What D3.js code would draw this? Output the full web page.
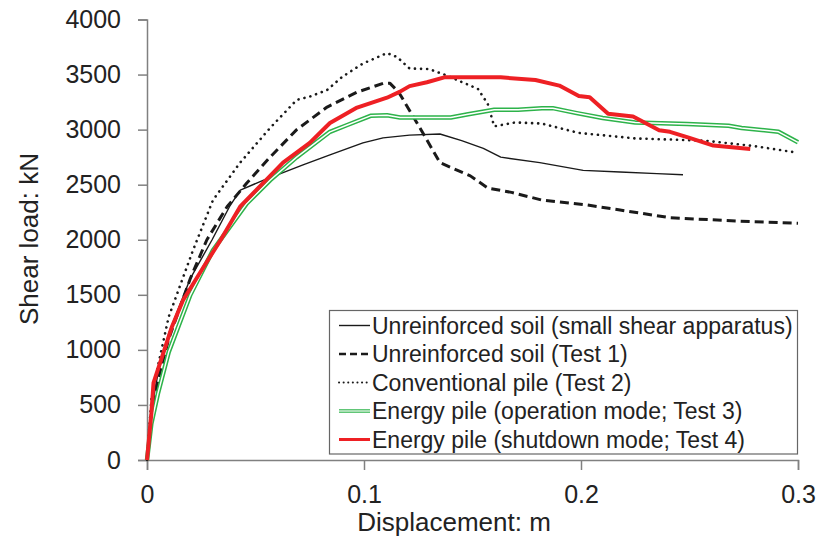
<!DOCTYPE html>
<html>
<head>
<meta charset="utf-8">
<script src="https://cdn.jsdelivr.net/npm/d3@7"></script>
<style>
body { margin: 0; background: #fff; }
text { font-family: "Liberation Sans", Arial, sans-serif; fill: #222; }
</style>
</head>
<body>
<svg id="chart" width="819" height="539"></svg>
<script>
// displacement (m), shear load (kN)
var soilSmall = [[0,0],[0.002,450],[0.005,780],[0.01,1150],[0.02,1650],[0.03,2000],[0.038,2300],[0.043,2450],
	[0.0535,2540],[0.0719,2680],[0.0843,2770],[0.0995,2880],[0.1088,2925],[0.121,2950],[0.135,2960],
	[0.145,2900],[0.155,2830],[0.163,2750],[0.181,2700],[0.201,2630],[0.218,2615],[0.235,2600],[0.247,2590]];
var soilTest1 = [[0,0],[0.002,420],[0.005,720],[0.01,1100],[0.02,1650],[0.0276,2000],[0.0369,2300],[0.046,2515],
	[0.0567,2750],[0.069,3000],[0.083,3205],[0.0968,3340],[0.1088,3420],[0.112,3420],[0.116,3340],
	[0.1258,3015],[0.135,2700],[0.149,2580],[0.157,2470],[0.168,2430],[0.182,2360],[0.203,2315],
	[0.218,2270],[0.241,2200],[0.272,2170],[0.3,2150]];
var pileTest2 = [[0,0],[0.002,550],[0.005,850],[0.01,1300],[0.0212,1905],[0.0304,2360],[0.0429,2700],[0.0567,3015],
	[0.069,3270],[0.075,3300],[0.083,3360],[0.09,3480],[0.0995,3600],[0.1106,3695],[0.1152,3660],
	[0.121,3555],[0.13,3550],[0.137,3500],[0.1525,3370],[0.157,3235],[0.16,3030],[0.1696,3065],
	[0.182,3055],[0.199,2970],[0.225,2920],[0.257,2900],[0.28,2850],[0.3,2790]];
var energyTest3 = [[0,0],[0.002,330],[0.005,600],[0.01,980],[0.02,1500],[0.0304,1905],[0.046,2330],[0.0567,2540],
	[0.069,2750],[0.0843,2980],[0.092,3040],[0.103,3125],[0.1106,3130],[0.1166,3110],[0.14,3110],
	[0.148,3140],[0.16,3180],[0.171,3180],[0.182,3195],[0.187,3195],[0.198,3150],[0.21,3105],
	[0.225,3065],[0.249,3050],[0.268,3035],[0.274,3015],[0.291,2980],[0.3,2885]];
var energyTest4 = [[0,0],[0.002,420],[0.003,700],[0.006,880],[0.0115,1210],[0.0166,1450],[0.026,1750],[0.034,2000],
	[0.0429,2300],[0.0535,2515],[0.0627,2700],[0.075,2880],[0.0843,3060],[0.0968,3200],[0.1106,3290],
	[0.1166,3345],[0.121,3395],[0.129,3430],[0.137,3475],[0.163,3475],[0.179,3450],[0.19,3400],
	[0.199,3305],[0.204,3295],[0.2125,3145],[0.224,3120],[0.236,2995],[0.241,2980],[0.25,2925],
	[0.261,2855],[0.278,2825]];

var xTicks = [0, 0.1, 0.2, 0.3];
var yTicks = [0, 500, 1000, 1500, 2000, 2500, 3000, 3500, 4000];
var legendNames = ["Unreinforced soil (small shear apparatus)", "Unreinforced soil (Test 1)",
	"Conventional pile (Test 2)", "Energy pile (operation mode; Test 3)", "Energy pile (shutdown mode; Test 4)"];

var svg = d3.select("#chart");
var x = d3.scaleLinear().domain([0, 0.3]).range([147, 798]);
var y = d3.scaleLinear().domain([0, 4000]).range([460, 19.5]);
var axisColor = "#808080";

var line = d3.line().x(function(d) { return x(d[0]); }).y(function(d) { return y(d[1]); });

var styles = [
	{stroke: "#1a1a1a", width: 1.4},
	{stroke: "#1a1a1a", width: 3, dash: "9,5"},
	{stroke: "#1a1a1a", width: 2.6, dash: "0.1,6", cap: "round"},
	{stroke: "#2db34a", width: 4.5, inner: "#fff", innerWidth: 1.5},
	{stroke: "#ee2024", width: 4}
];
var series = [soilSmall, soilTest1, pileTest2, energyTest3, energyTest4];

// axes
var xAxis = svg.append("g").attr("transform", "translate(0," + y(0) + ")")
	.call(d3.axisBottom(x).tickValues(xTicks).tickSize(10).tickFormat(d3.format("")));
var yAxis = svg.append("g").attr("transform", "translate(" + x(0) + ",0)")
	.call(d3.axisLeft(y).tickValues(yTicks).tickSize(9).tickFormat(d3.format("")));
[xAxis, yAxis].forEach(function(a) {
	a.select(".domain").attr("stroke", axisColor).attr("stroke-width", 1.5);
	a.selectAll(".tick line").attr("stroke", axisColor).attr("stroke-width", 1.5);
	a.selectAll("text").style("font-size", "25px").attr("fill", "#222");
});
xAxis.selectAll("text").attr("y", 43).attr("dy", 0);
yAxis.selectAll("text").attr("x", -26);

// curves
series.forEach(function(s, i) {
	var st = styles[i];
	var p = svg.append("path").datum(s).attr("d", line)
		.attr("fill", "none").attr("stroke", st.stroke).attr("stroke-width", st.width)
		.attr("stroke-linejoin", "round");
	if(st.dash) p.attr("stroke-dasharray", st.dash);
	if(st.cap) p.attr("stroke-linecap", st.cap);
	if(st.inner)
		svg.append("path").datum(s).attr("d", line).attr("fill", "none")
			.attr("stroke", st.inner).attr("stroke-width", st.innerWidth).attr("stroke-linejoin", "round");
});

// legend
var lg = svg.append("g");
lg.append("rect").attr("x", 329.5).attr("y", 310.5).attr("width", 468).attr("height", 143.5)
	.attr("fill", "#fff").attr("stroke", "#666").attr("stroke-width", 1.2);
legendNames.forEach(function(name, i) {
	var st = styles[i];
	var ly = 325.5 + i * 28.5;
	var l = lg.append("line").attr("x1", 339).attr("x2", 370).attr("y1", ly).attr("y2", ly)
		.attr("stroke", st.stroke).attr("stroke-width", st.width);
	if(st.dash) l.attr("stroke-dasharray", i == 2 ? "0.1,4.5" : "7,4").attr("stroke-width", i == 2 ? 2 : 2.6);
	if(st.cap) l.attr("stroke-linecap", st.cap);
	if(i == 3) l.attr("stroke-width", 3.5);
	if(i == 4) l.attr("stroke-width", 3);
	if(st.inner)
		lg.append("line").attr("x1", 339).attr("x2", 370).attr("y1", ly).attr("y2", ly)
			.attr("stroke", st.inner).attr("stroke-width", 1.2);
	lg.append("text").attr("x", 372).attr("y", ly).attr("dy", "0.35em")
		.style("font-size", "23px").text(name);
});

// axis titles
svg.append("text").attr("x", 454).attr("y", 531).attr("text-anchor", "middle")
	.style("font-size", "26px").text("Displacement: m");
svg.append("text").attr("transform", "translate(38,239) rotate(-90)").attr("text-anchor", "middle")
	.style("font-size", "26px").text("Shear load: kN");
</script>
</body>
</html>
